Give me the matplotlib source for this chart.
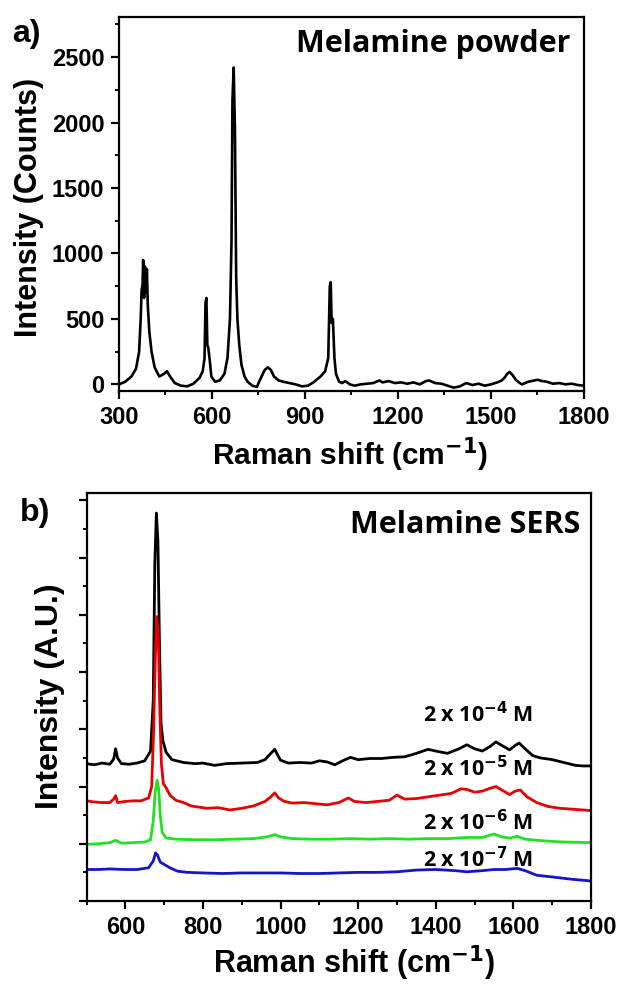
import numpy as np
import matplotlib
matplotlib.use("Agg")
import matplotlib.pyplot as plt
from matplotlib.ticker import MultipleLocator

plt.rcParams['font.family'] = ['Liberation Sans', 'DejaVu Sans']
plt.rcParams['font.weight'] = 'bold'
plt.rcParams['mathtext.default'] = 'bf'

# ---- panel a: melamine powder (counts) ----
powder_x = [300, 320, 340, 355, 365, 370, 373, 376, 378, 381, 384, 387, 390, 393, 398, 405, 415,
            430, 445, 455, 465, 480, 500, 520, 540, 560, 570, 576, 579, 582, 585, 588, 592, 598,
            610, 625, 640, 650, 658, 663, 666, 670, 674, 678, 682, 688, 695, 705, 715, 730, 745,
            752, 760, 770, 780, 790, 800, 815, 830, 850, 870, 890, 910, 930, 950, 965, 975, 980,
            983, 986, 990, 995, 1000, 1010, 1020, 1030, 1045, 1060, 1080, 1100, 1120, 1140, 1150,
            1170, 1190, 1210, 1230, 1250, 1270, 1290, 1300, 1320, 1340, 1360, 1380, 1400, 1420,
            1440, 1460, 1480, 1500, 1520, 1535, 1545, 1552, 1560, 1570, 1580, 1590, 1600, 1620,
            1640, 1650, 1665, 1680, 1700, 1720, 1740, 1760, 1780, 1800]
powder_y = [0, 20, 60, 120, 250, 500, 720, 760, 950, 660, 900, 700, 880, 600, 400, 250, 130,
            60, 80, 100, 60, 10, -10, -15, 5, 50, 100, 200, 620, 660, 300, 280, 200, 60,
            20, 30, 80, 200, 500, 1100, 2170, 2420, 1950, 820, 500, 300, 150, 60, 20, -10, -20,
            20, 60, 110, 130, 110, 60, 30, 20, 10, 0, -15, -10, 20, 60, 100, 200, 750,
            780, 470, 500, 200, 80, 20, 10, 25, 0, -10, 0, 5, 10, 30, 15,
            25, 10, 15, 5, 15, 0, 25, 30, 10, 5, -10, -25, -15, 10,
            -5, 5, -10, 0, 15, 30, 55, 80, 95, 70, 35, 15, 0, 20,
            30, 35, 25, 20, 5, 10, 0, 5, -5, -10]

# ---- panel b: SERS spectra (offset, arbitrary units) ----
sers_labels = ['2 x 10$^{-4}$ M', '2 x 10$^{-5}$ M', '2 x 10$^{-6}$ M', '2 x 10$^{-7}$ M']
sers_colors = ['black', '#e80000', '#22e022', '#1414cc']

x_4 = [500, 520, 540, 560, 570, 575, 580, 590, 610, 630, 650, 665, 672, 676, 680, 684, 688, 692,
       697, 705, 720, 750, 780, 800, 830, 860, 900, 940, 960, 975, 985, 992, 1000, 1020, 1050,
       1080, 1100, 1120, 1140, 1160, 1180, 1200, 1230, 1260, 1290, 1320, 1350, 1380, 1400, 1430,
       1460, 1480, 1500, 1520, 1540, 1555, 1570, 1590, 1605, 1615, 1630, 1650, 1670, 1700, 1730,
       1760, 1780, 1800]
y_4 = [2.40, 2.38, 2.41, 2.39, 2.48, 2.66, 2.50, 2.40, 2.39, 2.41, 2.45, 2.62, 3.5, 5.9, 6.78, 6.3,
       4.5, 3.1, 2.80, 2.60, 2.47, 2.42, 2.40, 2.41, 2.37, 2.40, 2.41, 2.42, 2.47, 2.58, 2.65, 2.56,
       2.46, 2.41, 2.42, 2.41, 2.45, 2.43, 2.38, 2.45, 2.51, 2.47, 2.49, 2.49, 2.51, 2.52, 2.58,
       2.65, 2.62, 2.58, 2.66, 2.73, 2.66, 2.62, 2.70, 2.78, 2.72, 2.64, 2.72, 2.76, 2.66, 2.54,
       2.50, 2.47, 2.42, 2.37, 2.36, 2.36]

x_5 = [500, 520, 540, 560, 570, 575, 580, 600, 620, 640, 660, 668, 673, 677, 681, 685, 689, 693,
       698, 705, 715, 730, 750, 770, 790, 810, 840, 870, 900, 930, 960, 975, 985, 995, 1010, 1030,
       1060, 1090, 1120, 1150, 1175, 1190, 1220, 1250, 1280, 1300, 1320, 1350, 1380, 1410, 1440,
       1465, 1480, 1500, 1520, 1540, 1555, 1570, 1590, 1605, 1618, 1635, 1660, 1690, 1720, 1760, 1800]
y_5 = [1.75, 1.73, 1.72, 1.72, 1.78, 1.84, 1.72, 1.74, 1.75, 1.75, 1.80, 2.0, 3.0, 4.2, 4.97, 4.6,
       3.3, 2.4, 2.05, 1.98, 1.85, 1.76, 1.72, 1.66, 1.64, 1.62, 1.63, 1.59, 1.62, 1.66, 1.74, 1.82,
       1.89, 1.80, 1.74, 1.71, 1.72, 1.70, 1.68, 1.72, 1.80, 1.74, 1.72, 1.74, 1.76, 1.85, 1.78,
       1.79, 1.82, 1.85, 1.88, 1.96, 1.95, 1.90, 1.92, 1.97, 2.0, 1.94, 1.86, 1.92, 1.94, 1.82,
       1.72, 1.65, 1.62, 1.60, 1.58]

x_6 = [500, 530, 560, 575, 590, 620, 650, 665, 672, 677, 682, 686, 690, 695, 705, 730, 780, 830,
       880, 930, 965, 985, 1000, 1030, 1080, 1130, 1180, 1230, 1280, 1330, 1380, 1430, 1480, 1520,
       1550, 1570, 1590, 1610, 1630, 1680, 1730, 1800]
y_6 = [0.99, 1.00, 1.02, 1.06, 1.01, 1.02, 1.03, 1.07, 1.4, 1.9, 2.11, 1.95, 1.5, 1.2, 1.10, 1.08,
       1.07, 1.07, 1.08, 1.09, 1.12, 1.16, 1.12, 1.09, 1.08, 1.08, 1.09, 1.08, 1.09, 1.08, 1.09,
       1.09, 1.11, 1.11, 1.17, 1.12, 1.10, 1.13, 1.08, 1.05, 1.03, 1.02]

x_7 = [500, 530, 560, 600, 630, 660, 672, 678, 683, 690, 700, 715, 735, 760, 800, 850, 900, 950,
       1000, 1050, 1100, 1150, 1200, 1250, 1300, 1350, 1400, 1450, 1480, 1520, 1550, 1580, 1610,
       1630, 1660, 1700, 1750, 1800]
y_7 = [0.55, 0.55, 0.56, 0.55, 0.55, 0.58, 0.70, 0.84, 0.80, 0.68, 0.64, 0.58, 0.52, 0.50, 0.49,
       0.48, 0.49, 0.49, 0.49, 0.48, 0.48, 0.49, 0.50, 0.50, 0.51, 0.54, 0.55, 0.53, 0.51, 0.53,
       0.55, 0.55, 0.57, 0.53, 0.45, 0.42, 0.38, 0.35]

label_y = [3.26, 2.31, 1.37, 0.72]

fig = plt.figure(figsize=(6.21, 9.85), dpi=100)

tick_fs = 17
note_font = ['Open Sans', 'DejaVu Sans']

# panel a
ax1 = fig.add_axes([0.1916, 0.603, 0.7488, 0.3797])
ax1.plot(powder_x, powder_y, color='black', lw=1.9)
ax1.set_xlim(300, 1800)
ax1.set_ylim(-51, 2806)
ax1.xaxis.set_major_locator(MultipleLocator(300))
ax1.xaxis.set_minor_locator(MultipleLocator(150))
ax1.yaxis.set_major_locator(MultipleLocator(500))
ax1.yaxis.set_minor_locator(MultipleLocator(250))
ax1.set_xlabel('Raman shift (cm$^{-1}$)', fontsize=21.5, fontweight='bold')
ax1.set_ylabel('Intensity (Counts)', fontsize=22, fontweight='bold')
ax1.xaxis.set_label_coords(0.497, -0.171)
ax1.xaxis.label.set_va('center')
ax1.yaxis.set_label_coords(-0.1935, 0.49)
ax1.yaxis.label.set_va('center')
ax1.text(0.970, 0.928, 'Melamine powder', transform=ax1.transAxes, ha='right', va='center',
         fontsize=22, fontweight='bold', family=note_font)

# panel b
ax2 = fig.add_axes([0.1393, 0.0853, 0.8124, 0.4142])
for xs, ys, c in zip([x_4, x_5, x_6, x_7], [y_4, y_5, y_6, y_7], sers_colors):
    ax2.plot(xs, ys, color=c, lw=2.0)
for lab, ly in zip(sers_labels, label_y):
    ax2.text(1508, ly, lab, ha='center', va='center', fontsize=15.5, fontweight='bold',
             family=note_font)
ax2.text(0.978, 0.9216, 'Melamine SERS', transform=ax2.transAxes, ha='right', va='center',
         fontsize=22, fontweight='bold', family=note_font)
ax2.set_xlim(500, 1800)
ax2.set_ylim(0, 7.13)
ax2.xaxis.set_major_locator(MultipleLocator(200))
ax2.xaxis.set_minor_locator(MultipleLocator(100))
ax2.yaxis.set_major_locator(MultipleLocator(1))
ax2.yaxis.set_minor_locator(MultipleLocator(0.5))
ax2.set_yticklabels([])
ax2.set_xlabel('Raman shift (cm$^{-1}$)', fontsize=22, fontweight='bold')
ax2.set_ylabel('Intensity (A.U.)', fontsize=23, fontweight='bold')
ax2.xaxis.set_label_coords(0.530, -0.152)
ax2.xaxis.label.set_va('center')
ax2.yaxis.set_label_coords(-0.0723, 0.502)
ax2.yaxis.label.set_va('center')

for ax in (ax1, ax2):
    for s in ax.spines.values():
        s.set_linewidth(1.6)
    ax.tick_params(which='major', direction='out', length=5.5, width=1.6, labelsize=tick_fs,
                   pad=5, top=False, right=False)
    ax.tick_params(which='minor', direction='out', length=3, width=1.4, top=False, right=False)
    for t in ax.get_xticklabels() + ax.get_yticklabels():
        t.set_fontweight('bold')

fig.text(12 / 621, 1 - 34 / 985, 'a)', fontsize=23, fontweight='bold', va='center', ha='left')
fig.text(35 / 621, 1 - 513 / 985, 'b)', fontsize=23, fontweight='bold', va='center', ha='center')

fig.savefig('out.png', dpi=100)
